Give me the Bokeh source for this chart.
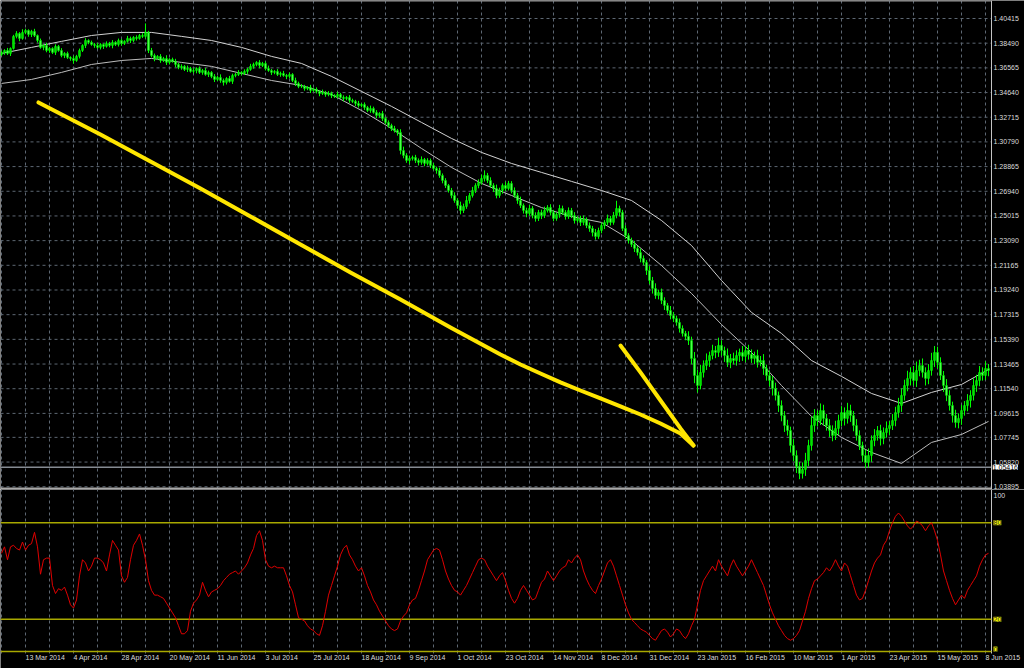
import numpy as np
from bokeh.plotting import figure
from bokeh.layouts import column
from bokeh.models import ColumnDataSource, Span, Label, Range1d
from bokeh.core.properties import value
from bokeh.embed import file_html
from bokeh.resources import INLINE

# ---------------- data (EURUSD daily) ----------------
first_open = 13760  # pips
close_pips = [
    13777, 13792, 13769, 13808, 13902, 13925, 13886, 13933, 13948, 13917,
    13941, 13909, 13870, 13816, 13831, 13792, 13808, 13777, 13824, 13792,
    13753, 13769, 13738, 13730, 13714, 13746, 13792, 13831, 13870, 13855,
    13839, 13831, 13816, 13839, 13824, 13847, 13831, 13855, 13839, 13870,
    13847, 13863, 13886, 13870, 13894, 13886, 13909, 13902, 13933, 13792,
    13753, 13730, 13746, 13714, 13730, 13699, 13722, 13707, 13683, 13660,
    13668, 13644, 13652, 13629, 13636, 13652, 13621, 13636, 13605, 13621,
    13590, 13566, 13582, 13558, 13543, 13574, 13551, 13597, 13605, 13621,
    13613, 13629, 13644, 13668, 13683, 13699, 13675, 13691, 13652, 13636,
    13621, 13629, 13605, 13613, 13597, 13590, 13605, 13558, 13535, 13512,
    13512, 13496, 13504, 13480, 13488, 13473, 13457, 13465, 13449, 13457,
    13441, 13434, 13449, 13426, 13418, 13426, 13402, 13395, 13379, 13363,
    13371, 13348, 13324, 13340, 13309, 13285, 13301, 13262, 13231, 13207,
    13184, 13168, 13153, 13012, 12973, 12934, 12950, 12958, 12934, 12919,
    12942, 12911, 12934, 12895, 12872, 12856, 12817, 12778, 12739, 12700,
    12661, 12622, 12583, 12544, 12575, 12622, 12661, 12700, 12739, 12763,
    12794, 12817, 12778, 12739, 12716, 12661, 12700, 12739, 12716, 12755,
    12700, 12661, 12622, 12583, 12544, 12521, 12560, 12505, 12482, 12529,
    12505, 12544, 12568, 12529, 12482, 12513, 12560, 12529, 12497, 12544,
    12505, 12466, 12482, 12451, 12474, 12427, 12404, 12372, 12341, 12388,
    12427, 12451, 12482, 12451, 12505, 12560, 12529, 12404, 12349, 12310,
    12279, 12248, 12217, 12170, 12139, 12076, 11998, 11936, 11881, 11905,
    11842, 11803, 11764, 11725, 11702, 11671, 11624, 11585, 11562, 11530,
    11390, 11257, 11179, 11281, 11335, 11374, 11413, 11452, 11437, 11492,
    11452, 11413, 11359, 11390, 11374, 11413, 11437, 11406, 11452, 11421,
    11390, 11413, 11359, 11374, 11312, 11257, 11218, 11156, 11102, 11023,
    10945, 10867, 10828, 10711, 10633, 10547, 10493, 10524, 10594, 10711,
    10867, 10945, 10906, 10984, 10922, 10867, 10828, 10789, 10844, 10906,
    10968, 10922, 10984, 10945, 10867, 10789, 10711, 10633, 10579, 10633,
    10750, 10789, 10828, 10766, 10812, 10844, 10867, 10906, 10968, 11023,
    11102, 11179, 11234, 11281, 11218, 11296, 11335, 11281, 11234, 11296,
    11374, 11437, 11359, 11257, 11179, 11102, 11023, 10945, 10890, 10922,
    10984, 11023, 11062, 11102, 11179, 11218, 11281, 11257, 11312, 11296,
]
wick_up = [
    15, 10, 20, 8, 12, 18, 10, 25, 14, 9,
    12, 20, 8, 15, 10, 22, 12, 9, 16, 11,
    18, 10, 14, 8, 20, 12, 15, 10, 18, 9,
    14, 12, 20, 10, 8, 16, 12, 18, 10, 15,
    12, 9, 20, 14, 10, 16, 12, 18, 70, 12,
    20, 15, 10, 18, 12, 25, 10, 14, 20, 12,
    16, 10, 22, 12, 18, 9, 15, 12, 20, 14,
    10, 18, 12, 24, 15, 10, 20, 14, 12, 18,
    10, 16, 12, 20, 14, 10, 18, 12, 15, 22,
    12, 10, 18, 14, 20, 12, 16, 10, 22, 14,
    18, 12, 10, 20, 14, 16, 10, 22, 12, 18,
    14, 10, 20, 12, 16, 10, 18, 14, 12, 20,
    10, 16, 12, 22, 14, 18, 10, 20, 12, 16,
    14, 20, 12, 25, 30, 18, 22, 14, 20, 16,
    24, 12, 18, 15, 20, 14, 22, 16, 18, 12,
    20, 25, 18, 30, 22, 35, 20, 28, 18, 24,
    30, 40, 20, 25, 18, 30, 22, 16, 28, 20,
    18, 24, 20, 30, 16, 22, 28, 18, 25, 20,
    22, 30, 18, 25, 20, 16, 28, 22, 18, 24,
    20, 26, 18, 22, 30, 16, 24, 20, 28, 22,
    25, 18, 30, 20, 28, 60, 22, 20, 25, 18,
    22, 28, 20, 30, 24, 18, 35, 28, 40, 22,
    30, 25, 20, 35, 28, 22, 30, 24, 20, 40,
    30, 50, 45, 60, 40, 55, 30, 45, 35, 60,
    40, 30, 55, 35, 45, 40, 30, 50, 35, 45,
    40, 30, 45, 35, 50, 30, 40, 35, 45, 30,
    40, 35, 45, 30, 50, 40, 35, 55, 60, 45,
    70, 50, 40, 55, 45, 35, 50, 40, 60, 45,
    50, 40, 60, 45, 35, 50, 40, 30, 45, 55,
    40, 50, 35, 45, 40, 55, 35, 50, 45, 60,
    55, 45, 60, 40, 50, 70, 45, 55, 40, 50,
    60, 50, 45, 40, 35, 50, 40, 30, 45, 40,
    45, 35, 50, 40, 55, 45, 50, 40, 55, 35,
]
wick_dn = [
    10, 18, 12, 20, 9, 15, 22, 10, 14, 18,
    20, 12, 16, 10, 22, 14, 18, 12, 20, 10,
    14, 20, 12, 18, 25, 10, 16, 12, 20, 14,
    10, 18, 12, 16, 20, 10, 14, 22, 12, 16,
    18, 12, 10, 20, 14, 16, 10, 12, 15, 20,
    14, 22, 10, 18, 12, 20, 16, 10, 22, 14,
    18, 12, 20, 10, 16, 22, 12, 18, 10, 20,
    14, 20, 12, 18, 25, 16, 10, 20, 14, 12,
    16, 12, 20, 10, 18, 14, 22, 12, 16, 10,
    20, 14, 12, 18, 10, 22, 16, 12, 20, 14,
    12, 18, 14, 20, 10, 16, 22, 12, 18, 14,
    20, 12, 16, 10, 22, 14, 18, 12, 20, 16,
    14, 20, 12, 18, 10, 22, 16, 20, 14, 18,
    20, 16, 25, 30, 22, 18, 28, 16, 20, 24,
    18, 22, 16, 20, 14, 25, 18, 22, 20, 16,
    22, 18, 25, 30, 20, 18, 24, 16, 20, 22,
    18, 24, 20, 16, 28, 22, 18, 25, 20, 16,
    22, 18, 26, 20, 24, 30, 18, 22, 25, 20,
    28, 20, 16, 24, 22, 18, 26, 20, 24, 18,
    20, 24, 18, 28, 22, 20, 26, 30, 24, 18,
    22, 28, 20, 24, 18, 22, 30, 20, 26, 24,
    20, 28, 24, 30, 22, 35, 28, 40, 26, 30,
    28, 35, 24, 30, 28, 26, 32, 24, 30, 35,
    45, 60, 55, 30, 40, 35, 50, 30, 45, 35,
    40, 50, 35, 45, 30, 40, 50, 35, 45, 40,
    35, 45, 40, 30, 50, 40, 45, 55, 40, 50,
    45, 50, 40, 55, 45, 50, 45, 40, 50, 45,
    40, 50, 45, 35, 55, 40, 50, 45, 35, 50,
    45, 55, 40, 50, 45, 40, 35, 50, 45, 40,
    50, 45, 40, 55, 45, 40, 50, 35, 45, 40,
    50, 40, 45, 55, 40, 50, 45, 40, 55, 45,
    40, 50, 45, 35, 50, 45, 40, 55, 40, 45,
    50, 40, 45, 55, 40, 50, 45, 40, 35, 45,
]
stoch_main = [
    61, 65, 57, 65, 66, 64, 63, 68, 63, 66,
    67, 74, 65, 48, 57, 58, 58, 41, 36, 39,
    38, 40, 35, 29, 27, 32, 47, 57, 55, 50,
    53, 58, 58, 57, 55, 50, 60, 69, 66, 63,
    47, 43, 46, 57, 66, 69, 73, 66, 57, 44,
    38, 35, 35, 34, 33, 30, 27, 24, 21, 16,
    11, 11, 13, 25, 30, 32, 35, 43, 38, 34,
    37, 38, 39, 41, 44, 46, 48, 49, 50, 48,
    50, 52, 55, 60, 64, 72, 75, 69, 57, 53,
    52, 53, 52, 52, 52, 47, 41, 37, 29, 21,
    20, 19, 16, 14, 13, 11, 10, 16, 25, 35,
    41, 47, 53, 60, 64, 66, 60, 57, 53, 50,
    52, 47, 41, 37, 32, 29, 25, 22, 19, 16,
    14, 13, 14, 19, 22, 24, 29, 32, 33, 38,
    44, 50, 57, 60, 63, 64, 63, 57, 50, 45,
    41, 38, 37, 35, 38, 41, 45, 49, 53, 57,
    58, 57, 53, 50, 47, 44, 47, 49, 44, 38,
    33, 30, 33, 38, 41, 38, 35, 32, 33, 38,
    43, 45, 50, 47, 44, 47, 50, 52, 53, 57,
    55, 58, 60, 57, 50, 45, 41, 38, 36, 41,
    45, 50, 55, 57, 53, 47, 41, 35, 29, 24,
    20, 18, 16, 14, 13, 12, 10, 8, 7, 10,
    13, 14, 12, 9, 11, 14, 13, 10, 8, 11,
    16, 20, 29, 38, 44, 47, 50, 53, 50, 57,
    53, 50, 47, 53, 57, 53, 50, 47, 50, 53,
    57, 53, 49, 45, 41, 35, 29, 24, 20, 16,
    13, 10, 8, 7, 8, 10, 13, 19, 25, 33,
    39, 44, 45, 47, 49, 52, 50, 53, 57, 53,
    50, 55, 53, 47, 41, 35, 32, 33, 38, 44,
    50, 55, 58, 60, 66, 69, 75, 80, 84, 86,
    84, 81, 78, 76, 78, 81, 80, 78, 75, 78,
    80, 75, 69, 60, 50, 44, 38, 33, 29, 32,
    35, 33, 38, 41, 44, 47, 53, 57, 60, 61,
]
ma_idx = [0, 10, 20, 30, 40, 50, 60, 70, 80, 90, 100, 110, 120, 130, 140, 150, 160,
          170, 180, 190, 200, 210, 220, 230, 240, 250, 260, 270, 280, 290, 300, 310,
          320, 329]
ma_upper = [13769, 13816, 13863, 13909, 13933, 13933, 13902, 13870, 13816, 13746,
            13691, 13590, 13473, 13356, 13231, 13106, 12997, 12911, 12841, 12771,
            12700, 12622, 12466, 12271, 11998, 11749, 11585, 11374, 11250, 11117,
            11039, 11125, 11187, 11304]
ma_lower = [13535, 13566, 13621, 13683, 13714, 13730, 13699, 13668, 13613, 13558,
            13519, 13449, 13324, 13184, 13028, 12880, 12755, 12661, 12567, 12497,
            12451, 12310, 12115, 11897, 11655, 11437, 11179, 10938, 10774, 10657,
            10571, 10735, 10797, 10899]
price_ticks = [1.40415, 1.38490, 1.36565, 1.34640, 1.32715, 1.30790, 1.28865,
               1.26940, 1.25015, 1.23090, 1.21165, 1.19240, 1.17315, 1.15390,
               1.13465, 1.11540, 1.09615, 1.07745, 1.05820, 1.03895]
date_idx = [8, 24, 40, 56, 72, 88, 104, 120, 136, 152, 168, 184, 200, 216, 232,
            248, 264, 280, 296, 312, 328]
date_labels = ["13 Mar 2014", "4 Apr 2014", "28 Apr 2014", "20 May 2014",
               "11 Jun 2014", "3 Jul 2014", "25 Jul 2014", "18 Aug 2014",
               "9 Sep 2014", "1 Oct 2014", "23 Oct 2014", "14 Nov 2014",
               "8 Dec 2014", "31 Dec 2014", "23 Jan 2015", "16 Feb 2015",
               "10 Mar 2015", "1 Apr 2015", "23 Apr 2015", "15 May 2015",
               "8 Jun 2015"]
arrow1_idx = [12.33, 33, 49.67, 66.33, 83, 99.67, 116.33, 133, 149.67, 166.33,
              173, 179.67, 186.33, 193, 199.67, 206.33, 213, 219.67, 226.33, 230.67]
arrow1_pips = [13387, 13137, 12927, 12716, 12498, 12279, 12061, 11850, 11632, 11421,
               11343, 11273, 11203, 11140, 11078, 11016, 10953, 10883, 10805, 10711]
arrow2_idx = [206.33, 213, 219.67, 226.33, 230.67]
arrow2_pips = [11491, 11281, 11062, 10844, 10711]
hline_price = 1.05416
stoch_levels = [80, 20, 0]

# ---------------- derived ----------------
n = len(close_pips)
xi = np.arange(n)
c = np.array(close_pips) / 1e4
o = np.concatenate([[first_open / 1e4], c[:-1]])
hi = np.maximum(o, c) + np.array(wick_up) / 1e4
lo = np.minimum(o, c) - np.array(wick_dn) / 1e4
bull = c >= o
src = ColumnDataSource(dict(x=xi, hi=hi, lo=lo, top=np.maximum(o, c),
                            bot=np.minimum(o, c),
                            fill=np.where(bull, "#00c000", "#a8ffa8")))

FONT = "Liberation Sans"
LBL = "#dcdcdc"
GRID = "#5d6772"
AXIS_X = 330            # right price scale sits after the last bar slot
LABEL_X = 330.67

xr = Range1d(-1 / 3, 341)
vgrid = list(range(0, 330, 8))

P_TOP, P_BOT = 1.41819, 1.03679
S_TOP, S_BOT, S_FRAME_BOT = 100.62, -10.56, -1.24


def base_fig(fh, yr):
    p = figure(frame_width=1024, frame_height=fh, x_range=xr, y_range=yr,
               output_backend="svg", toolbar_location=None,
               background_fill_color="black", border_fill_color="black",
               outline_line_color=None, min_border=0,
               x_axis_location=None, y_axis_location=None)
    for g in p.grid:
        g.visible = False
    return p


# ---------------- price panel ----------------
p1 = base_fig(489, Range1d(P_BOT, P_TOP))
p1.segment(x0=vgrid, y0=[P_BOT] * len(vgrid), x1=vgrid, y1=[P_TOP] * len(vgrid),
           line_color=GRID, line_dash="3 3", line_width=1)
p1.segment(x0=[xr.start] * len(price_ticks), y0=price_ticks,
           x1=[AXIS_X] * len(price_ticks), y1=price_ticks,
           line_color=GRID, line_dash="3 3", line_width=1)

p1.segment(x0=[xr.start], y0=[hline_price], x1=[AXIS_X], y1=[hline_price],
           line_color="#858b93", line_width=1.5)
p1.segment(x0=[xr.start], y0=[P_BOT + 1 / 1282.0], x1=[AXIS_X], y1=[P_BOT + 1 / 1282.0],
           line_color="#a9a9a9", line_width=2)
p1.segment(x0=[xr.start], y0=[P_TOP - 0.5 / 1282.0], x1=[AXIS_X], y1=[P_TOP - 0.5 / 1282.0],
           line_color="#9a9a9a", line_width=1)
p1.add_layout(Span(location=AXIS_X, dimension="height", line_color="#c4c4c4",
                   line_width=1))

p1.line(ma_idx, np.array(ma_upper) / 1e4, line_color="#d2d2d2", line_width=1)
p1.line(ma_idx, np.array(ma_lower) / 1e4, line_color="#bcbcbc", line_width=1)

p1.segment(x0="x", y0="hi", x1="x", y1="lo", source=src,
           line_color="#00ff00", line_width=1)
p1.vbar(x="x", top="top", bottom="bot", width=0.45, source=src,
        fill_color="fill", line_color="#00ff00", line_width=1)

p1.line(arrow1_idx, np.array(arrow1_pips) / 1e4, line_color="#ffe600",
        line_width=4, line_cap="round", line_join="round")
p1.line(arrow2_idx, np.array(arrow2_pips) / 1e4, line_color="#ffe600",
        line_width=4, line_cap="round", line_join="round")

p1.text(x=[LABEL_X] * len(price_ticks), y=price_ticks,
        text=["%.5f" % t for t in price_ticks],
        text_font=value(FONT), text_font_size=value("7px"), text_color=LBL,
        text_baseline="middle", text_align="left")
p1.add_layout(Label(x=AXIS_X + 0.4, y=hline_price, text="1.05416", text_font=FONT,
                    text_font_size="7px", text_color="black",
                    text_baseline="middle", text_align="left",
                    background_fill_color="white"))

# ---------------- stochastic panel ----------------
p2 = base_fig(179, Range1d(S_BOT, S_TOP))
p2.segment(x0=vgrid, y0=[S_FRAME_BOT] * len(vgrid), x1=vgrid, y1=[S_TOP] * len(vgrid),
           line_color=GRID, line_dash="3 3", line_width=1)
p2.segment(x0=[AXIS_X], y0=[S_FRAME_BOT], x1=[AXIS_X], y1=[S_TOP],
           line_color="#c4c4c4", line_width=1)
p2.segment(x0=[xr.start] * len(stoch_levels), y0=stoch_levels,
           x1=[AXIS_X] * len(stoch_levels), y1=stoch_levels,
           line_color="#a8a800", line_width=1.5)

p2.line(xi, stoch_main, line_color="#e00000", line_width=1)

p2.text(x=date_idx, y=[-1.4] * len(date_idx), text=date_labels,
        text_font=value(FONT), text_font_size=value("7px"), text_color=LBL,
        text_baseline="top", text_align="left")
p2.add_layout(Label(x=LABEL_X, y=97, text="100", text_font=FONT,
                    text_font_size="7px", text_color=LBL,
                    text_baseline="middle", text_align="left"))
for lv in stoch_levels:
    p2.add_layout(Label(x=LABEL_X, y=lv + (1.5 if lv == 0 else 0), text=str(lv),
                        text_font=FONT, text_font_size="7px", text_color="#202020",
                        text_baseline="middle", text_align="left",
                        background_fill_color="#f0f000"))

layout = column(p1, p2, spacing=0)
open("out.html", "w").write(file_html(layout, INLINE))
